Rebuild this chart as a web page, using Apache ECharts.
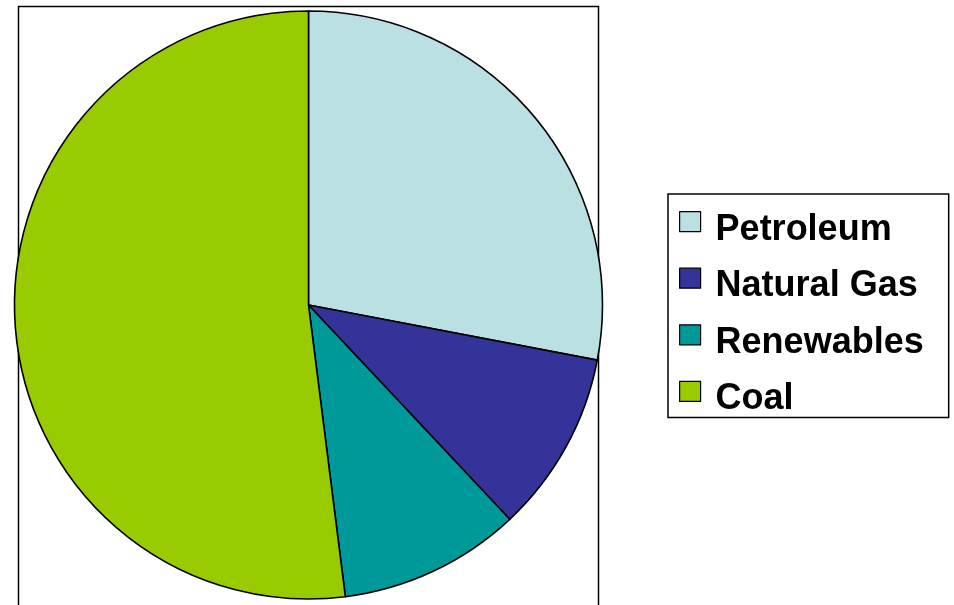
<!DOCTYPE html>
<html>
<head>
<meta charset="utf-8">
<script src="https://cdn.jsdelivr.net/npm/echarts@6/dist/echarts.min.js"></script>
<style>
html,body{margin:0;padding:0;background:#fff;}
#c{width:954px;height:605px;}
</style>
</head>
<body>
<div id="c"></div>
<script>
const categories = ['Petroleum', 'Natural Gas', 'Renewables', 'Coal'];
const values = [28, 10, 10, 52];
const colors = ['#BBE0E3', '#333399', '#009999', '#99CC00'];

const chart = echarts.init(document.getElementById('c'), null, {renderer: 'canvas'});
chart.setOption({
  backgroundColor: '#ffffff',
  animation: false,
  graphic: [{
    type: 'rect',
    z: 0,
    shape: {x: 18.5, y: 6.5, width: 580, height: 640},
    style: {fill: 'none', stroke: '#000', lineWidth: 1.5}
  }],
  legend: {
    orient: 'vertical',
    left: 668,
    top: 194,
    padding: [17, 25, 0, 11],
    itemWidth: 21,
    itemHeight: 20,
    itemGap: 20,
    borderColor: '#000',
    borderWidth: 1.5,
    backgroundColor: '#fff',
    icon: 'rect',
    itemStyle: {borderColor: '#000', borderWidth: 1.2},
    formatter: name => '{a|' + name + '}',
    textStyle: {
      fontFamily: 'Liberation Sans, Arial, sans-serif',
      fontWeight: 'bold',
      fontSize: 36,
      color: '#000',
      rich: {
        a: {
          fontFamily: 'Liberation Sans, Arial, sans-serif',
          fontWeight: 'bold',
          fontSize: 36,
          color: '#000',
          padding: [16, 0, 0, 10]
        }
      }
    },
    data: categories
  },
  series: [{
    type: 'pie',
    center: [308.5, 305],
    radius: 294,
    startAngle: 90,
    clockwise: true,
    label: {show: false},
    labelLine: {show: false},
    emphasis: {disabled: true},
    itemStyle: {borderColor: '#000', borderWidth: 1.6},
    data: categories.map((n, i) => ({name: n, value: values[i], itemStyle: {color: colors[i]}}))
  }]
});
</script>
</body>
</html>
